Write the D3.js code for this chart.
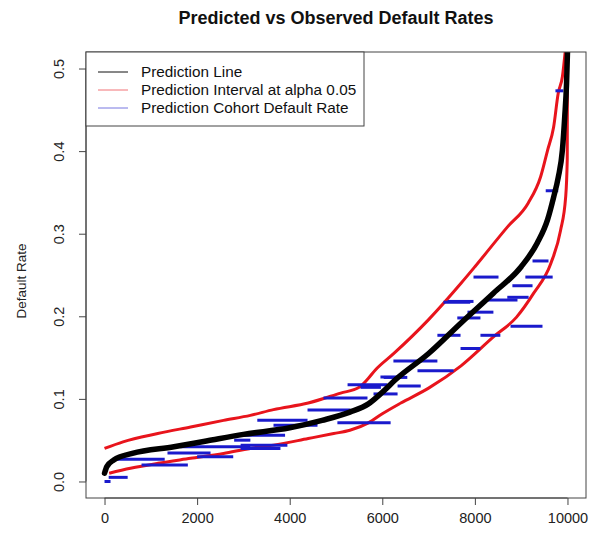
<!DOCTYPE html>
<html lang="en">
<head>
<meta charset="UTF-8">
<title>Predicted vs Observed Default Rates</title>
<script src="https://d3js.org/d3.v7.min.js"></script>
<style>
  body { margin: 0; background: #fff; }
  svg { display: block; font-family: "Liberation Sans", Arial, sans-serif; }
</style>
</head>
<body>
<div id="chart"></div>
<script>
// prediction line (sorted predicted default rate by index)
const predIdx  = [0, 50, 200, 600, 1500, 2200, 3000, 4000, 4700, 5300, 5700, 6000, 6300, 7000, 7700, 8400, 9000, 9350, 9570, 9700, 9800, 9890, 9940, 9980, 10000];
const predRate = [0.010, 0.018, 0.026, 0.034, 0.042, 0.049, 0.057, 0.065, 0.074, 0.084, 0.094, 0.108, 0.124, 0.155, 0.192, 0.228, 0.260, 0.289, 0.317, 0.344, 0.368, 0.401, 0.441, 0.482, 0.520];

// prediction interval bounds
const upperIdx  = [0, 400, 1150, 1860, 2570, 3150, 3650, 4400, 5100, 5500, 5700, 5850, 6250, 7000, 7700, 8000, 8700, 9150, 9420, 9570, 9700, 9800, 9890, 9950];
const upperRate = [0.040, 0.048, 0.058, 0.066, 0.074, 0.080, 0.087, 0.095, 0.107, 0.114, 0.125, 0.135, 0.155, 0.196, 0.240, 0.260, 0.308, 0.337, 0.369, 0.401, 0.429, 0.470, 0.490, 0.520];
const lowerIdx  = [100, 560, 1150, 1860, 2570, 3150, 3650, 4400, 4950, 5300, 5700, 6000, 6400, 7000, 7700, 8400, 8900, 9270, 9640, 9850, 9960, 9995, 10000];
const lowerRate = [0.010, 0.016, 0.022, 0.028, 0.034, 0.040, 0.044, 0.052, 0.058, 0.062, 0.071, 0.082, 0.095, 0.113, 0.140, 0.175, 0.199, 0.228, 0.264, 0.304, 0.344, 0.390, 0.520];

// observed cohort default rates (start index, end index, rate)
const cohortStart = [0, 90, 200, 800, 1360, 2000, 1640, 2800, 2940, 2940, 2940, 3300, 3650, 4385, 4730, 5030, 5250, 5810, 5960, 5530, 6330, 6030, 6240, 6760, 7190, 7690, 7320, 7620, 7840, 8120, 7410, 7970, 8270, 8700, 8810, 8770, 9090, 9245, 9530, 9740];
const cohortEnd   = [130, 500, 1300, 1800, 2290, 2780, 3150, 3150, 3950, 3900, 3800, 4385, 4600, 5310, 5680, 6180, 6110, 6330, 6390, 5970, 6830, 6540, 7190, 7540, 7690, 8120, 7900, 8120, 8400, 8550, 7970, 8510, 8920, 9160, 9245, 9460, 9680, 9590, 9800, 9910];
const cohortRate  = [0.000, 0.005, 0.027, 0.020, 0.0345, 0.030, 0.042, 0.050, 0.044, 0.056, 0.040, 0.074, 0.068, 0.0866, 0.101, 0.071, 0.117, 0.106, 0.1265, 0.114, 0.1156, 0.126, 0.146, 0.134, 0.177, 0.161, 0.217, 0.198, 0.205, 0.177, 0.218, 0.2475, 0.2197, 0.223, 0.237, 0.188, 0.2475, 0.267, 0.352, 0.473];

const xTicks = [0, 2000, 4000, 6000, 8000, 10000];
const yTicks = [0.0, 0.1, 0.2, 0.3, 0.4, 0.5];

const legendLabels = ["Prediction Line", "Prediction Interval at alpha 0.05", "Prediction Cohort Default Rate"];
const legendColors = ["#111", "#e8141c", "#1a1acc"];

const W = 589, H = 536;
const plot = { left: 86, right: 586, top: 52, bottom: 498 };

const x = d3.scaleLinear().domain([-400, 10400]).range([plot.left, plot.right]);
const y = d3.scaleLinear().domain([-0.02, 0.52]).range([plot.bottom, plot.top]);

const svg = d3.select("#chart").append("svg")
    .attr("width", W)
    .attr("height", H);

svg.append("clipPath").attr("id", "clip")
  .append("rect")
    .attr("x", plot.left).attr("y", plot.top)
    .attr("width", plot.right - plot.left).attr("height", plot.bottom - plot.top);

const g = svg.append("g").attr("clip-path", "url(#clip)");

const line = d3.line()
    .x(d => x(d[0]))
    .y(d => y(d[1]))
    .curve(d3.curveMonotoneX);

// interval bands
g.append("path")
    .datum(upperIdx.map((v, i) => [v, upperRate[i]]))
    .attr("d", line)
    .attr("fill", "none")
    .attr("stroke", legendColors[1])
    .attr("stroke-width", 3);

g.append("path")
    .datum(lowerIdx.map((v, i) => [v, lowerRate[i]]))
    .attr("d", line)
    .attr("fill", "none")
    .attr("stroke", legendColors[1])
    .attr("stroke-width", 3);

// cohort rates
g.selectAll(".cohort")
    .data(cohortRate.map((r, i) => ({ s: cohortStart[i], e: cohortEnd[i], r })))
    .enter()
    .append("line")
    .attr("class", "cohort")
    .attr("x1", d => x(d.s))
    .attr("x2", d => x(d.e))
    .attr("y1", d => y(d.r))
    .attr("y2", d => y(d.r))
    .attr("stroke", legendColors[2])
    .attr("stroke-width", 3);

// prediction line
g.append("path")
    .datum(predIdx.map((v, i) => [v, predRate[i]]))
    .attr("d", line)
    .attr("fill", "none")
    .attr("stroke", "#000")
    .attr("stroke-width", 5.5)
    .attr("stroke-linecap", "round");

// box
svg.append("rect")
    .attr("x", plot.left).attr("y", plot.top)
    .attr("width", plot.right - plot.left).attr("height", plot.bottom - plot.top)
    .attr("fill", "none")
    .attr("stroke", "#444")
    .attr("stroke-width", 1);

// axes
const xAxis = svg.append("g")
    .attr("transform", "translate(0," + plot.bottom + ")")
    .call(d3.axisBottom(x).tickValues(xTicks).tickSize(7).tickPadding(8).tickFormat(d3.format("d")));
xAxis.select(".domain").attr("d", "M" + x(0) + ",0H" + x(10000)).attr("stroke", "#444");
xAxis.selectAll(".tick line").attr("stroke", "#444");
xAxis.selectAll("text").style("font-size", "14.5px").attr("fill", "#222");

const yAxis = svg.append("g")
    .attr("transform", "translate(" + plot.left + ",0)")
    .call(d3.axisLeft(y).tickValues(yTicks).tickSize(7).tickFormat(d3.format(".1f")));
yAxis.select(".domain").attr("d", "M0," + y(0) + "V" + y(0.5)).attr("stroke", "#444");
yAxis.selectAll(".tick line").attr("stroke", "#444");
yAxis.selectAll("text")
    .attr("x", null).attr("dy", null)
    .attr("transform", "translate(-27,0) rotate(-90)")
    .attr("text-anchor", "middle")
    .attr("dy", "0.35em")
    .style("font-size", "14.5px")
    .attr("fill", "#222");

// title and label
svg.append("text")
    .attr("x", (plot.left + plot.right) / 2)
    .attr("y", 24)
    .attr("text-anchor", "middle")
    .attr("font-weight", "bold")
    .style("font-size", "18px")
    .attr("fill", "#111")
    .text("Predicted vs Observed Default Rates");

svg.append("text")
    .attr("transform", "translate(26,281) rotate(-90)")
    .attr("text-anchor", "middle")
    .style("font-size", "13.5px")
    .attr("fill", "#222")
    .text("Default Rate");

// legend
const legend = svg.append("g");
legend.append("rect")
    .attr("x", plot.left).attr("y", plot.top)
    .attr("width", 278).attr("height", 74)
    .attr("fill", "#fff")
    .attr("stroke", "#444");

legendLabels.forEach((lab, i) => {
    const ly = 72 + i * 18;
    legend.append("line")
        .attr("x1", 98).attr("x2", 128)
        .attr("y1", ly).attr("y2", ly)
        .attr("stroke", legendColors[i])
        .attr("stroke-opacity", i === 0 ? 1 : 0.6)
        .attr("stroke-width", 1);
    legend.append("text")
        .attr("x", 141).attr("y", ly)
        .attr("dy", "0.35em")
        .style("font-size", "15.3px")
        .attr("fill", "#111")
        .text(lab);
});
</script>
</body>
</html>
